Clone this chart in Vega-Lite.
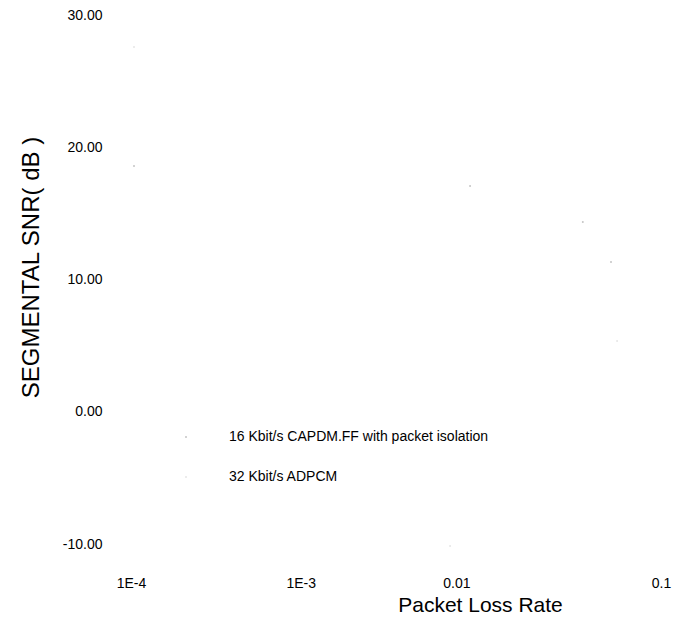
{
  "$schema": "https://vega.github.io/schema/vega-lite/v6.json",
  "autosize": "none",
  "padding": {"left": 131, "top": 15, "right": 27, "bottom": 74},
  "width": 530,
  "height": 529,
  "background": "#ffffff",
  "config": {
    "view": {"stroke": null},
    "font": "Liberation Sans"
  },
  "data": {
    "values": [
      {"series": "16 Kbit/s CAPDM.FF with packet isolation", "loss": 0.000104, "snr": 18.58},
      {"series": "16 Kbit/s CAPDM.FF with packet isolation", "loss": 0.0083, "snr": 17.07},
      {"series": "16 Kbit/s CAPDM.FF with packet isolation", "loss": 0.0361, "snr": 14.35},
      {"series": "16 Kbit/s CAPDM.FF with packet isolation", "loss": 0.0521, "snr": 11.32},
      {"series": "32 Kbit/s ADPCM", "loss": 0.000104, "snr": 27.58},
      {"series": "32 Kbit/s ADPCM", "loss": 0.0564, "snr": 5.35},
      {"series": "32 Kbit/s ADPCM", "loss": 0.0064, "snr": -10.15}
    ]
  },
  "mark": {"type": "point", "filled": true, "size": 4, "opacity": 1},
  "encoding": {
    "x": {
      "field": "loss",
      "type": "quantitative",
      "scale": {"type": "log", "domain": [0.0001, 0.1], "nice": false},
      "axis": {
        "title": "Packet Loss Rate",
        "values": [0.0001, 0.001, 0.01, 0.1],
        "labelExpr": "datum.value < 0.0005 ? '1E-4' : datum.value < 0.005 ? '1E-3' : datum.value < 0.05 ? '0.01' : '0.1'",
        "labelOffset": {
          "condition": [
            {"test": "datum.value > 0.0005 && datum.value < 0.005", "value": -7},
            {"test": "datum.value > 0.005 && datum.value < 0.05", "value": -28}
          ],
          "value": 0
        },
        "domain": false,
        "ticks": false,
        "grid": false,
        "labelFont": "Liberation Sans",
        "labelFontSize": 14,
        "labelColor": "#000000",
        "labelPadding": 32,
        "labelOverlap": false,
        "labelFlush": false,
        "titleFont": "Liberation Sans",
        "titleFontSize": 21,
        "titleFontWeight": "normal",
        "titleColor": "#000000",
        "titleAnchor": "middle",
        "titleAlign": "center",
        "titleBaseline": "alphabetic",
        "titleX": 349,
        "titleY": 67
      }
    },
    "y": {
      "field": "snr",
      "type": "quantitative",
      "scale": {"domain": [-10, 30], "nice": false, "zero": false},
      "axis": {
        "title": "SEGMENTAL SNR( dB )",
        "values": [-10, 0, 10, 20, 30],
        "labelExpr": "replace(format(datum.value, '.2f'), '\u2212', '-')",
        "domain": false,
        "ticks": false,
        "grid": false,
        "labelFont": "Liberation Sans",
        "labelFontSize": 14,
        "labelColor": "#000000",
        "labelPadding": 29,
        "labelOverlap": false,
        "titleFont": "Liberation Sans",
        "titleFontSize": 24,
        "titleFontWeight": "normal",
        "titleColor": "#000000",
        "titleAngle": -90,
        "titleAlign": "center",
        "titleBaseline": "alphabetic",
        "titleX": -93,
        "titleY": 252
      }
    },
    "color": {
      "field": "series",
      "type": "nominal",
      "scale": {
        "domain": ["16 Kbit/s CAPDM.FF with packet isolation", "32 Kbit/s ADPCM"],
        "range": ["#c4c4c4", "#e6e6e6"]
      },
      "legend": {
        "title": null,
        "orient": "none",
        "legendX": 48,
        "legendY": 415,
        "padding": 0,
        "symbolType": "circle",
        "symbolSize": 4,
        "symbolStrokeWidth": 0,
        "labelFont": "Liberation Sans",
        "labelFontSize": 14,
        "labelColor": "#000000",
        "labelOffset": 36,
        "labelLimit": 400,
        "rowPadding": 26
      }
    }
  }
}
